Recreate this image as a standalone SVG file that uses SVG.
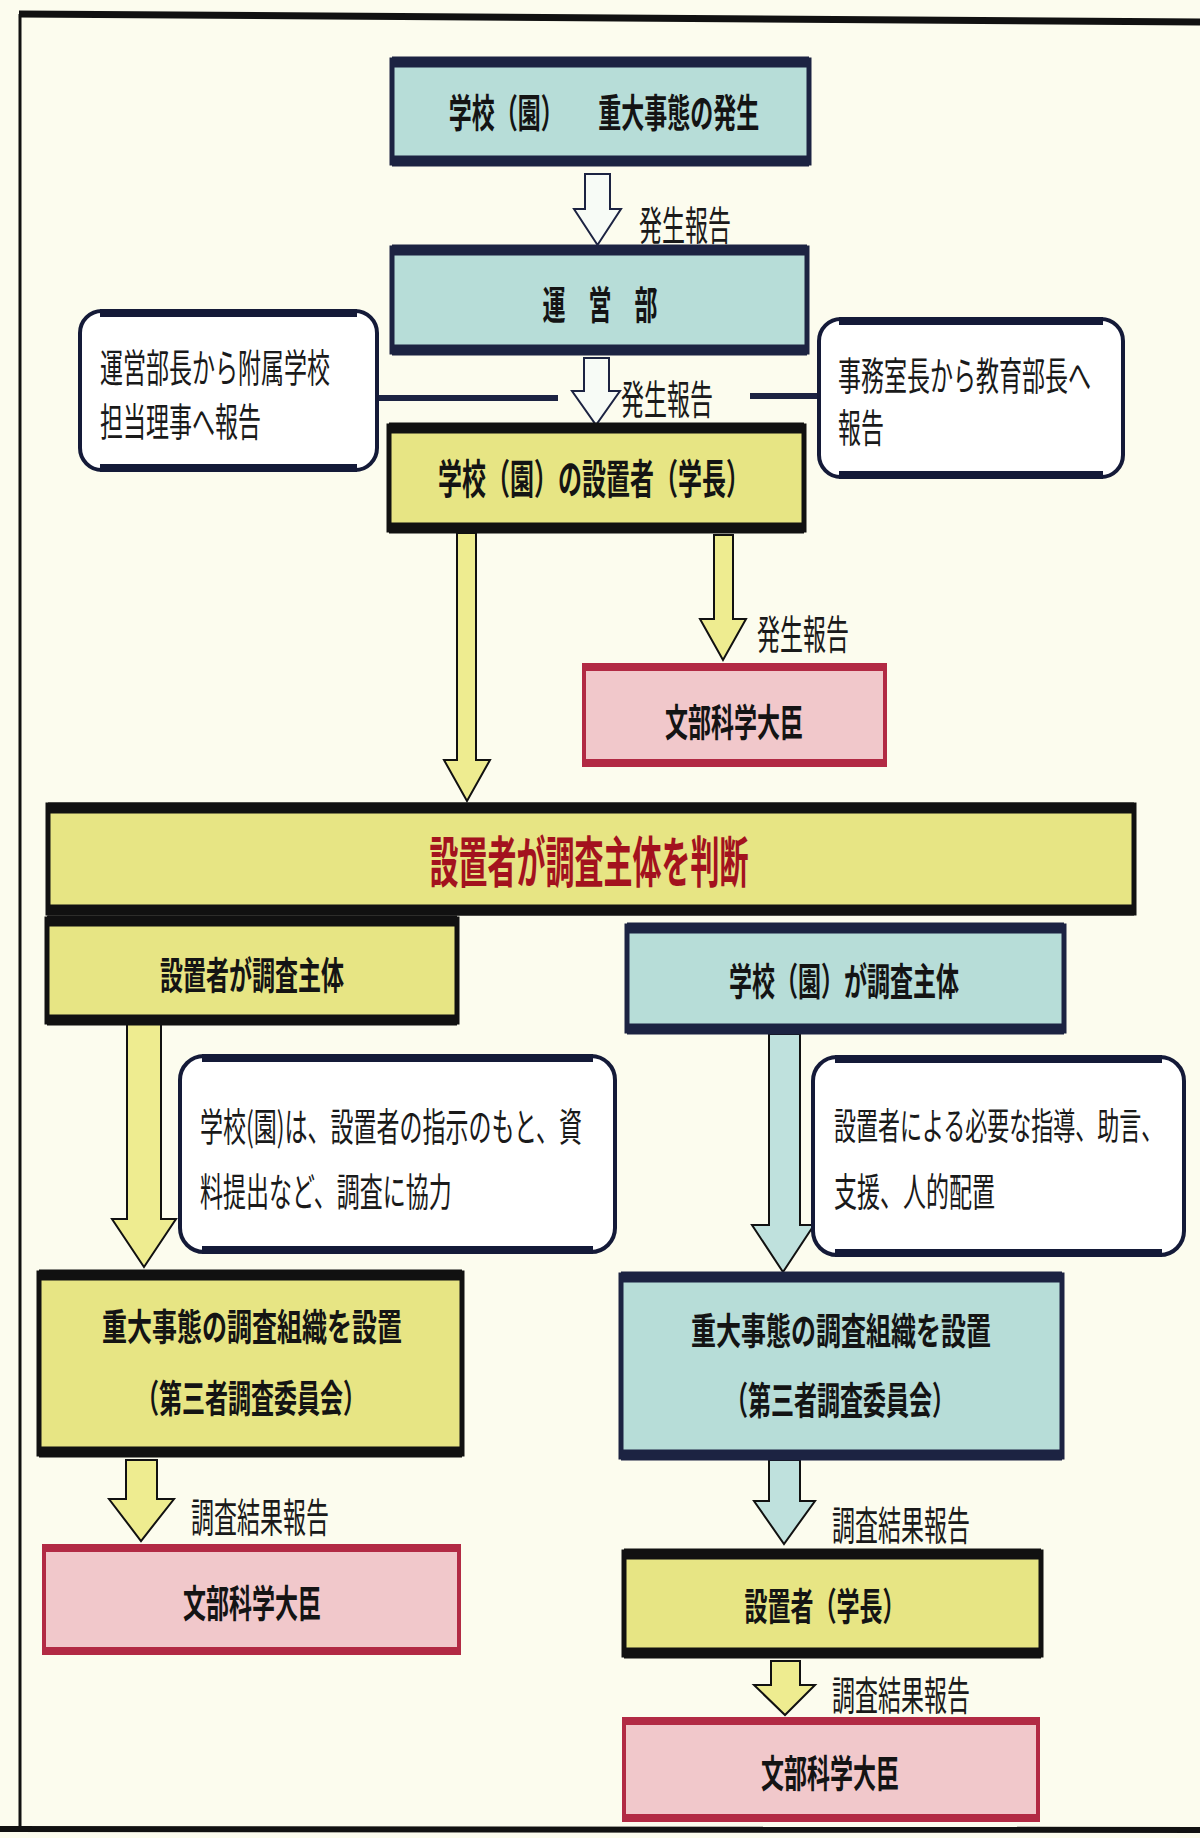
<svg xmlns="http://www.w3.org/2000/svg" width="1200" height="1838" viewBox="0 0 1200 1838">
<style>
text{font-family:"Noto Sans CJK JP","Noto Sans CJK SC",sans-serif;dominant-baseline:central}
.b{font-weight:700;font-size:23px;fill:#141414;text-anchor:middle}
.r{font-weight:400;font-size:23px;fill:#1a1a1a}
.lb{font-weight:400;font-size:23px;fill:#1a1a1a}
.main{font-weight:700;font-size:29px;fill:#a3121e;text-anchor:middle}
.cy{fill:#b7ddd8;stroke:#1c2342;stroke-width:5}
.cyb{stroke:#1c2342;stroke-width:11;fill:none}
.ye{fill:#e7e584;stroke:#111;stroke-width:5}
.yeb{stroke:#111;stroke-width:11;fill:none}
.pk{fill:#f1c8cb;stroke:#b22a44;stroke-width:4}
.pkb{stroke:#b22a44;stroke-width:8;fill:none}
.rd{fill:#fff;stroke:#141a38;stroke-width:4}
.rdb{stroke:#141a38;stroke-width:8;fill:none}
.aw{fill:#f7fbf6;stroke:#1c2342;stroke-width:2}
.ay{fill:#eeec90;stroke:#111;stroke-width:2}
.ac{fill:#bfe1dd;stroke:#111;stroke-width:2}
.hl{stroke:#1c2342;stroke-width:6}
</style>
<rect x="0" y="0" width="1200" height="1838" fill="#fcfcee"/>
<g id="frame" stroke="#111" fill="none">
<line x1="19" y1="14" x2="1200" y2="22" stroke-width="7"/>
<line x1="20" y1="14" x2="20" y2="1829" stroke-width="3"/>
<line x1="0" y1="1829" x2="1200" y2="1830" stroke-width="6"/>
</g>
<g id="connectors">
<polygon class="aw" points="585,174 610,174 610,209 621,209 597.5,245 574,209 585,209"/>
<polygon class="aw" points="584,358 609,358 609,391 620,391 596,425 572,391 584,391"/>
<line class="hl" x1="377" y1="398" x2="558" y2="398"/>
<line class="hl" x1="750" y1="396" x2="819" y2="396"/>
<polygon class="ay" points="457,533 476,533 476,760 490,760 467,801 444,760 457,760"/>
<polygon class="ay" points="714,535 733,535 733,619 746,619 723,660 700,619 714,619"/>
<polygon class="ay" points="127,1022 161,1022 161,1219 176,1219 144,1267 112,1219 127,1219"/>
<polygon class="ac" points="769,1034 800,1034 800,1225 814,1225 783,1272 752,1225 769,1225"/>
<polygon class="ay" points="126,1460 157,1460 157,1499 174,1499 141,1541 109,1499 126,1499"/>
<polygon class="ac" points="769,1460 800,1460 800,1501 815,1501 784,1544 754,1501 769,1501"/>
<polygon class="ay" points="771,1661 800,1661 800,1685 815,1685 785,1715 754,1685 771,1685"/>
<text class="lb" transform="translate(639,222) scale(1,1.75)">発生報告</text>
<text class="lb" transform="translate(621,396) scale(1,1.75)">発生報告</text>
<text class="lb" transform="translate(757,631) scale(1,1.75)">発生報告</text>
<text class="lb" transform="translate(191,1514) scale(1,1.75)">調査結果報告</text>
<text class="lb" transform="translate(832,1522) scale(1,1.75)">調査結果報告</text>
<text class="lb" transform="translate(832,1692) scale(1,1.75)">調査結果報告</text>
</g>
<g id="n-occur">
<rect class="cy" x="392" y="60" width="417" height="103"/>
<path class="cyb" d="M392,62h417M392,161h417"/>
<text class="b" transform="translate(604,110) scale(1,1.7)">学校（園）　　重大事態の発生</text>
</g>
<g id="n-unei">
<rect class="cy" x="392" y="248" width="415" height="104"/>
<path class="cyb" d="M392,250h415M392,350h415"/>
<text class="b" transform="translate(600,302) scale(1,1.7)">運　営　部</text>
</g>
<g id="n-setchi">
<rect class="ye" x="389" y="426" width="415" height="104"/>
<path class="yeb" d="M389,428h415M389,528h415"/>
<text class="b" transform="translate(594,476) scale(1,1.7)" style="font-size:24px">学校（園）の設置者（学長）</text>
</g>
<g id="n-note-left">
<rect class="rd" x="80" y="311" width="297" height="159" rx="22"/>
<path class="rdb" d="M100,313h257M100,468h257"/>
<text class="r" transform="translate(100,365) scale(1,1.7)">運営部長から附属学校</text>
<text class="r" transform="translate(100,419) scale(1,1.7)">担当理事へ報告</text>
</g>
<g id="n-note-right">
<rect class="rd" x="819" y="319" width="304" height="158" rx="22"/>
<path class="rdb" d="M839,321h264M839,475h264"/>
<text class="r" transform="translate(838,373) scale(1,1.7)">事務室長から教育部長へ</text>
<text class="r" transform="translate(838,425) scale(1,1.7)">報告</text>
</g>
<g id="n-mext1">
<rect class="pk" x="584" y="665" width="301" height="100"/>
<path class="pkb" d="M584,667h301M584,763h301"/>
<text class="b" transform="translate(734,720) scale(1,1.65)">文部科学大臣</text>
</g>
<g id="n-judge">
<rect class="ye" x="48" y="805" width="1086" height="108"/>
<path class="yeb" d="M48,808h1086M48,910h1086"/>
<text class="main" transform="translate(589,858) scale(1,1.9)">設置者が調査主体を判断</text>
</g>
<g id="n-sub-left">
<rect class="ye" x="47" y="919" width="410" height="103"/>
<path class="yeb" d="M47,921h410M47,1020h410"/>
<text class="b" transform="translate(252,973) scale(1,1.65)">設置者が調査主体</text>
</g>
<g id="n-sub-right">
<rect class="cy" x="627" y="926" width="437" height="105"/>
<path class="cyb" d="M627,928h437M627,1029h437"/>
<text class="b" transform="translate(844,979) scale(1,1.65)">学校（園）が調査主体</text>
</g>
<g id="n-note-left2">
<rect class="rd" x="180" y="1056" width="435" height="196" rx="24"/>
<path class="rdb" d="M202,1058h391M202,1250h391"/>
<text class="r" transform="translate(200,1124) scale(1,1.7)">学校(園)は、設置者の指示のもと、資</text>
<text class="r" transform="translate(200,1189) scale(1,1.7)">料提出など、調査に協力</text>
</g>
<g id="n-note-right2">
<rect class="rd" x="813" y="1057" width="371" height="198" rx="24"/>
<path class="rdb" d="M835,1059h327M835,1253h327"/>
<text class="r" transform="translate(834,1124) scale(1,1.7)" style="font-size:22px">設置者による必要な指導、助言、</text>
<text class="r" transform="translate(834,1189) scale(1,1.7)">支援、人的配置</text>
</g>
<g id="n-org-left">
<rect class="ye" x="39" y="1273" width="423" height="181"/>
<path class="yeb" d="M39,1275h423M39,1452h423"/>
<text class="b" transform="translate(252,1325) scale(1,1.5)" style="font-size:25px">重大事態の調査組織を設置</text>
<text class="b" transform="translate(251,1396) scale(1,1.65)">（第三者調査委員会）</text>
</g>
<g id="n-org-right">
<rect class="cy" x="621" y="1275" width="441" height="182"/>
<path class="cyb" d="M621,1277h441M621,1455h441"/>
<text class="b" transform="translate(841,1329) scale(1,1.5)" style="font-size:25px">重大事態の調査組織を設置</text>
<text class="b" transform="translate(840,1398) scale(1,1.65)">（第三者調査委員会）</text>
</g>
<g id="n-mext-left">
<rect class="pk" x="44" y="1546" width="415" height="107"/>
<path class="pkb" d="M44,1548h415M44,1651h415"/>
<text class="b" transform="translate(252,1601) scale(1,1.65)">文部科学大臣</text>
</g>
<g id="n-setchi2">
<rect class="ye" x="624" y="1552" width="417" height="103"/>
<path class="yeb" d="M624,1554h417M624,1653h417"/>
<text class="b" transform="translate(825,1604) scale(1,1.65)">設置者（学長）</text>
</g>
<g id="n-mext-right">
<rect class="pk" x="624" y="1719" width="414" height="101"/>
<path class="pkb" d="M624,1721h414M624,1818h414"/>
<text class="b" transform="translate(830,1771) scale(1,1.65)">文部科学大臣</text>
</g>
</svg>
